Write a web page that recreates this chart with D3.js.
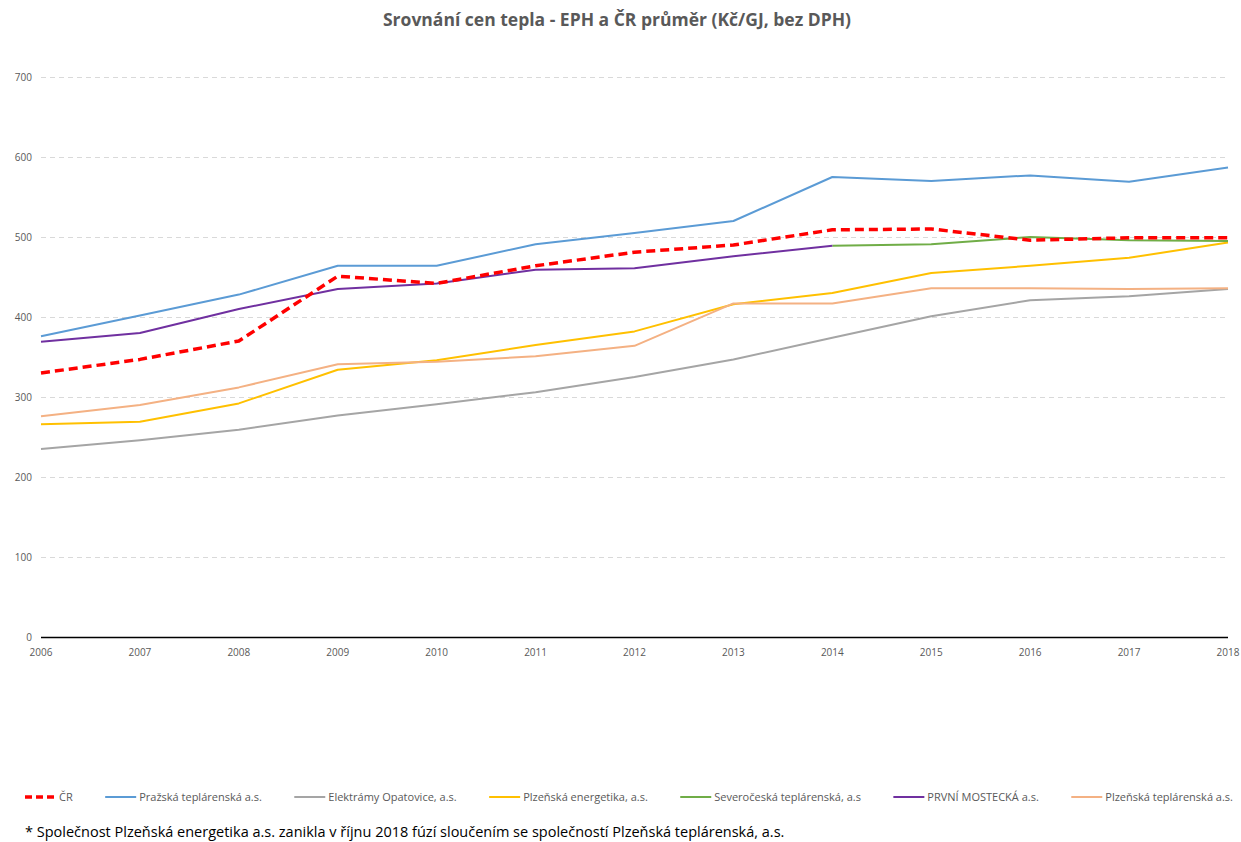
<!DOCTYPE html>
<html>
<head>
<meta charset="utf-8">
<script src="https://cdn.jsdelivr.net/npm/d3@7"></script>
<style>
  body { margin: 0; background: #fff; }
  svg { font-family: "Open Sans", "Noto Sans", sans-serif; }
</style>
</head>
<body>
<div id="chart"></div>
<script>
const years = [2006, 2007, 2008, 2009, 2010, 2011, 2012, 2013, 2014, 2015, 2016, 2017, 2018]
const yTicks = [0, 100, 200, 300, 400, 500, 600, 700]

const seriesNames = ["ČR", "Pražská teplárenská a.s.", "Elektrámy Opatovice, a.s.",
  "Plzeňská energetika, a.s.", "Severočeská teplárenská, a.s", "PRVNÍ MOSTECKÁ a.s.",
  "Plzeňská teplárenská a.s."]

const cr = [330, 347, 370, 451, 442, 464, 481, 490, 509, 510, 496, 499, 499]
const prazska = [376, 402, 428, 464, 464, 491, 505, 520, 575, 570, 577, 569, 587]
const opatovice = [235, 246, 259, 277, 291, 306, 325, 347, 374, 401, 421, 426, 435]
const plzenEnergetika = [266, 269, 292, 334, 346, 365, 382, 416, 430, 455, 464, 474, 493]
const severoceska = [null, null, null, null, null, null, null, null, 489, 491, 500, 496, 495]
const mostecka = [369, 380, 410, 435, 442, 459, 461, 476, 489, null, null, null, null]
const plzenTeplarenska = [276, 290, 312, 341, 344, 351, 364, 417, 417, 436, 436, 435, 436]

const colors = ["#FF0000", "#5B9BD5", "#A5A5A5", "#FFC000", "#70AD47", "#7030A0", "#F4B183"]

const title = "Srovnání cen tepla - EPH a ČR průměr (Kč/GJ, bez DPH)"
const footnote = "* Společnost Plzeňská energetika a.s. zanikla v říjnu 2018 fúzí sloučením se společností Plzeňská teplárenská, a.s."

const width = 1241, height = 842
const margin = { top: 77, right: 13, bottom: 205, left: 41 }

const svg = d3.select("#chart").append("svg")
  .attr("width", width)
  .attr("height", height)

const x = d3.scalePoint()
  .domain(years)
  .range([margin.left, width - margin.right])

const y = d3.scaleLinear()
  .domain([0, 700])
  .range([height - margin.bottom, margin.top])

svg.append("text")
  .attr("x", 617)
  .attr("y", 26)
  .attr("text-anchor", "middle")
  .attr("font-size", "17.5px")
  .attr("font-weight", "bold")
  .attr("fill", "#595959")
  .text(title)

// gridlines
svg.append("g")
  .selectAll("line")
  .data(yTicks.slice(1))
  .join("line")
  .attr("x1", margin.left)
  .attr("x2", width - margin.right)
  .attr("y1", d => Math.round(y(d)) + 0.5)
  .attr("y2", d => Math.round(y(d)) + 0.5)
  .attr("stroke", "#d9d9d9")
  .attr("stroke-dasharray", "5,4")

// y labels
svg.append("g")
  .selectAll("text")
  .data(yTicks)
  .join("text")
  .attr("x", 32)
  .attr("y", d => y(d))
  .attr("dy", "0.35em")
  .attr("text-anchor", "end")
  .attr("font-size", "10px")
  .attr("fill", "#595959")
  .text(d => d)

// x axis
svg.append("line")
  .attr("x1", margin.left)
  .attr("x2", width - margin.right)
  .attr("y1", Math.round(y(0)) + 0.5)
  .attr("y2", Math.round(y(0)) + 0.5)
  .attr("stroke", "#000")
  .attr("stroke-width", 1.3)

svg.append("g")
  .selectAll("text")
  .data(years)
  .join("text")
  .attr("x", d => x(d))
  .attr("y", y(0) + 19)
  .attr("text-anchor", "middle")
  .attr("font-size", "10px")
  .attr("fill", "#595959")
  .text(d => d)

const allSeries = [cr, prazska, opatovice, plzenEnergetika, severoceska, mostecka, plzenTeplarenska]

const line = d3.line()
  .defined(d => d != null)
  .x((d, i) => x(years[i]))
  .y(d => y(d))

// draw red on top
const order = [1, 2, 3, 4, 5, 6, 0]
svg.append("g")
  .selectAll("path")
  .data(order)
  .join("path")
  .attr("d", k => line(allSeries[k]))
  .attr("fill", "none")
  .attr("stroke", k => colors[k])
  .attr("stroke-width", k => k == 0 ? 3.5 : 2)
  .attr("stroke-dasharray", k => k == 0 ? "9,5" : null)
  .attr("stroke-linejoin", "round")

// legend: measure texts, then spread items between left and right edge
const legend = svg.append("g")
const ly = 797, legLeft = 25, legRight = 1233, swatch = 31
const items = seriesNames.map((name, i) => {
  const g = legend.append("g")
  g.append("line")
    .attr("y1", ly).attr("y2", ly)
    .attr("stroke", colors[i])
    .attr("stroke-width", i == 0 ? 3.5 : 2)
    .attr("stroke-dasharray", i == 0 ? "7,4" : null)
  const t = g.append("text")
    .attr("y", ly)
    .attr("dy", "0.35em")
    .attr("font-size", "11px")
    .attr("fill", "#595959")
    .text(name)
  return { g, t, w: swatch + 3 + t.node().getComputedTextLength() }
})
const gap = (legRight - legLeft - d3.sum(items, d => d.w)) / (items.length - 1)
let lx = legLeft
items.forEach(it => {
  it.g.select("line").attr("x1", lx).attr("x2", lx + swatch)
  it.t.attr("x", lx + swatch + 3)
  lx += it.w + gap
})

svg.append("text")
  .attr("x", 25)
  .attr("y", 837)
  .attr("font-size", "14.5px")
  .attr("fill", "#000")
  .text(footnote)
</script>
</body>
</html>
